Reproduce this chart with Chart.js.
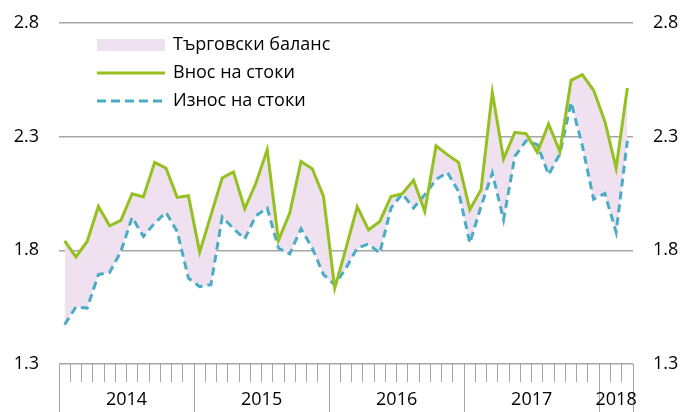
<!DOCTYPE html>
<html>
<head>
<meta charset="utf-8">
<script src="https://cdn.jsdelivr.net/npm/chart.js@4.4.0/dist/chart.umd.min.js"></script>
<style>
  html, body { margin: 0; padding: 0; background: #fff; }
  #wrap { width: 680px; height: 412px; }
</style>
</head>
<body>
<div id="wrap"><canvas id="chart" width="680" height="412"></canvas></div>
<script>
// Trade: imports vs exports, monthly Jan 2014 - Mar 2018

const years = ['2014', '2015', '2016', '2017', '2018'];
const monthsPerYear = [12, 12, 12, 12, 3];
const yTicks = [1.3, 1.8, 2.3, 2.8];

const seriesNames = ['Търговски баланс', 'Внос на стоки', 'Износ на стоки'];

// Внос на стоки
const importData = [
  1.842, 1.771, 1.839, 1.993, 1.908, 1.932, 2.049, 2.035, 2.187, 2.162, 2.033, 2.040,
  1.792, 1.955, 2.118, 2.145, 1.983, 2.096, 2.243, 1.844, 1.964, 2.191, 2.159, 2.037,
  1.634, 1.810, 1.992, 1.890, 1.927, 2.037, 2.049, 2.108, 1.971, 2.260, 2.221, 2.187,
  1.979, 2.067, 2.495, 2.202, 2.319, 2.313, 2.231, 2.356, 2.235, 2.548, 2.573, 2.504,
  2.367, 2.162, 2.514
];

// Износ на стоки
const exportData = [
  1.473, 1.551, 1.546, 1.693, 1.703, 1.795, 1.945, 1.861, 1.920, 1.967, 1.883, 1.678,
  1.640, 1.649, 1.947, 1.895, 1.850, 1.952, 1.986, 1.810, 1.784, 1.895, 1.810, 1.693,
  1.649, 1.722, 1.810, 1.828, 1.788, 1.986, 2.049, 1.986, 2.045, 2.111, 2.143, 2.059,
  1.832, 1.993, 2.140, 1.935, 2.213, 2.282, 2.265, 2.133, 2.224, 2.451, 2.260, 2.025,
  2.050, 1.880, 2.282
];

// month labels built from years
const labels = [];
years.forEach((y, i) => {
  for (let m = 1; m <= monthsPerYear[i]; m++) labels.push(y + '-' + String(m).padStart(2, '0'));
});

const FONT = '"Open Sans", "Noto Sans", sans-serif';
const GREEN = '#94c11f';
const BLUE = '#4bacc6';
const PINK = '#efe1ef';
const GRID = '#a6a6a6';

// year labels + long separators under the month ticks
const yearAxis = {
  id: 'yearAxis',
  afterDraw(chart) {
    const { ctx, scales: { x }, chartArea } = chart;
    const half = (x.getPixelForValue(1) - x.getPixelForValue(0)) / 2;
    ctx.save();
    ctx.strokeStyle = GRID;
    ctx.lineWidth = 1;
    ctx.font = '18px ' + FONT;
    ctx.fillStyle = '#000';
    ctx.textAlign = 'center';
    ctx.textBaseline = 'middle';
    let idx = 0;
    const edges = [0];
    monthsPerYear.forEach(n => { idx += n; edges.push(idx); });
    edges.forEach(e => {
      const px = Math.round(x.getPixelForValue(e) - half) + 0.5;
      ctx.beginPath();
      ctx.moveTo(px, chartArea.bottom);
      ctx.lineTo(px, chart.height);
      ctx.stroke();
    });
    years.forEach((y, i) => {
      const a = x.getPixelForValue(edges[i]) - half;
      const b = x.getPixelForValue(edges[i + 1]) - half;
      ctx.fillText(y, (a + b) / 2, 400);
    });
    ctx.restore();
  }
};

// legend drawn inside the plot, top-left
const insideLegend = {
  id: 'insideLegend',
  afterDraw(chart) {
    const ctx = chart.ctx;
    ctx.save();
    ctx.fillStyle = PINK;
    ctx.fillRect(97, 39, 68, 12);
    ctx.lineWidth = 3;
    ctx.strokeStyle = GREEN;
    ctx.beginPath(); ctx.moveTo(97, 73); ctx.lineTo(165, 73); ctx.stroke();
    ctx.strokeStyle = BLUE;
    ctx.setLineDash([9, 5]);
    ctx.beginPath(); ctx.moveTo(97, 101); ctx.lineTo(165, 101); ctx.stroke();
    ctx.setLineDash([]);
    ctx.fillStyle = '#000';
    ctx.font = '18px ' + FONT;
    ctx.textBaseline = 'middle';
    ctx.fillText(seriesNames[0], 173, 45);
    ctx.fillText(seriesNames[1], 173, 73);
    ctx.fillText(seriesNames[2], 173, 101);
    ctx.restore();
  }
};

const yScale = (pos, w) => ({
  position: pos,
  min: 1.3, max: 2.8,
  afterBuildTicks: s => { s.ticks = yTicks.map(v => ({ value: v })); },
  afterFit: s => { s.width = w; s.paddingTop = 0; s.paddingBottom = 0; },
  border: { display: false },
  grid: { display: pos === 'left', color: GRID, lineWidth: 1.5, drawTicks: false },
  ticks: {
    padding: 20,
    color: '#000',
    font: { family: FONT, size: 18 },
    callback: v => Number(v).toFixed(1)
  }
});

new Chart(document.getElementById('chart'), {
  type: 'line',
  data: {
    labels,
    datasets: [
      {
        label: seriesNames[0],
        data: importData,
        borderWidth: 0,
        pointRadius: 0,
        backgroundColor: PINK,
        fill: { target: 2 },
        order: 3
      },
      {
        label: seriesNames[1],
        data: importData,
        borderColor: GREEN,
        borderWidth: 3,
        pointRadius: 0,
        tension: 0,
        fill: false,
        order: 1
      },
      {
        label: seriesNames[2],
        data: exportData,
        borderColor: BLUE,
        borderWidth: 3,
        borderDash: [8, 5],
        pointRadius: 0,
        tension: 0,
        fill: false,
        order: 2
      }
    ]
  },
  options: {
    responsive: false,
    animation: false,
    devicePixelRatio: 1,
    layout: { padding: { top: 23, left: 0, right: 0, bottom: 0 } },
    plugins: { legend: { display: false }, tooltip: { enabled: false } },
    scales: {
      x: {
        offset: true,
        afterFit: s => { s.height = 48; },
        border: { display: false },
        grid: { offset: true, drawOnChartArea: false, drawTicks: true, tickLength: 18, color: GRID },
        ticks: { display: false }
      },
      y: yScale('left', 59),
      y2: yScale('right', 47)
    }
  },
  plugins: [yearAxis, insideLegend]
});
</script>
</body>
</html>
